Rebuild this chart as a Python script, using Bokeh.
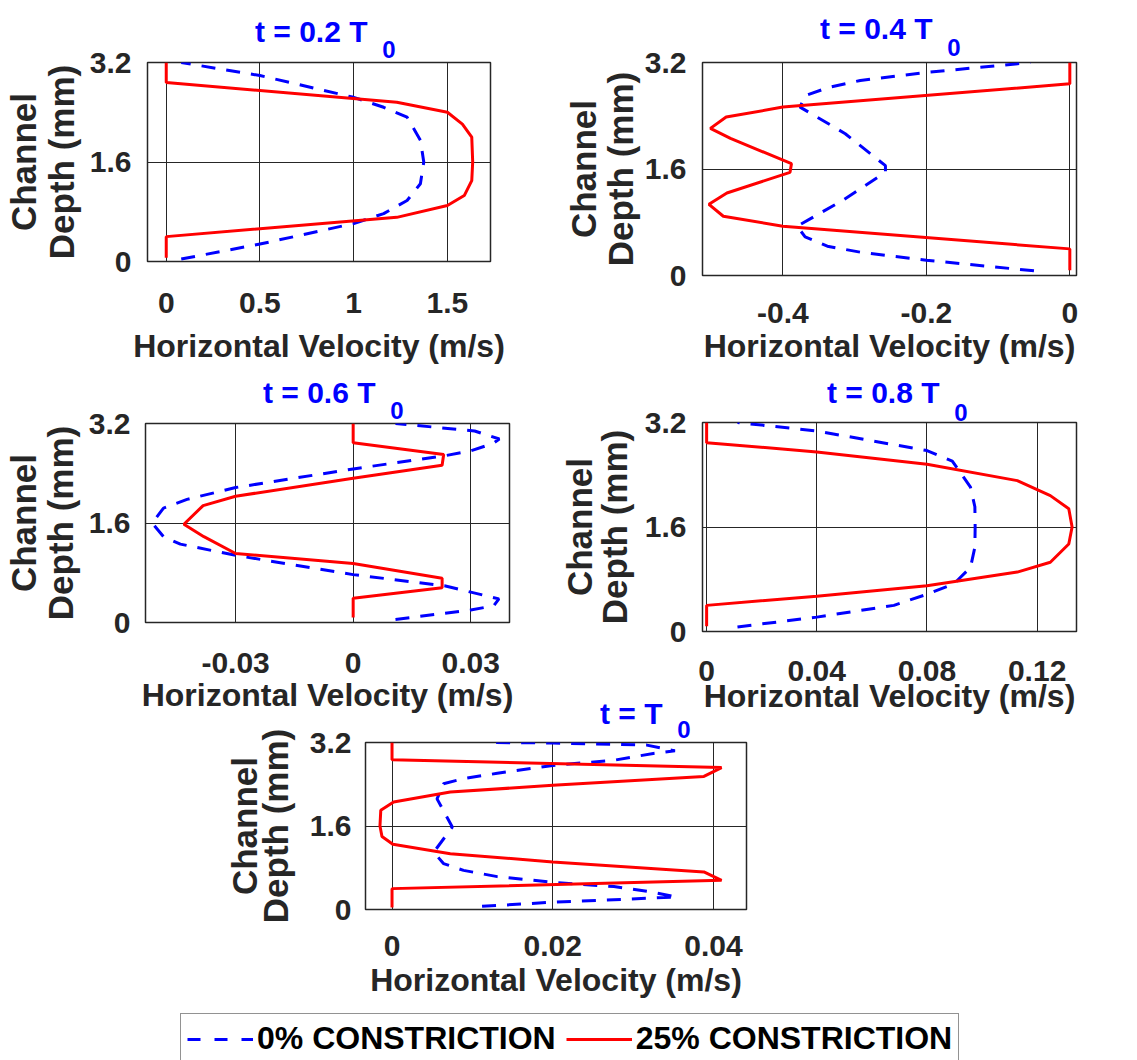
from bokeh.plotting import figure
from bokeh.models import Range1d, FixedTicker, Title, Legend, LegendItem, Spacer
from bokeh.layouts import column, row
from bokeh.embed import file_html
from bokeh.resources import INLINE

# ---------------- data ----------------
Y_TICKS = [0, 1.6, 3.2]
Y_TICK_LABELS = ["0", "1.6", "3.2"]
X_LABEL = "Horizontal Velocity (m/s)"
Y_LABEL_INNER = "Depth (mm)"
Y_LABEL_OUTER = "Channel"
SERIES_NAMES = ["0% CONSTRICTION", "25% CONSTRICTION"]
TITLES = ["t = 0.2 T", "t = 0.4 T", "t = 0.6 T", "t = 0.8 T", "t = T"]
TITLE_SUB = "0"

# t = 0.2 T0
p1_xlim = (-0.1, 1.73)
p1_xticks = [0, 0.5, 1, 1.5]
p1_xtick_labels = ["0", "0.5", "1", "1.5"]
p1_blue_x = [0.08, 0.50, 1.00, 1.16, 1.285, 1.356, 1.374, 1.356, 1.285, 1.16, 1.00, 0.50, 0.08]
p1_blue_y = [0.04, 0.28, 0.61, 0.77, 0.98, 1.25, 1.60, 1.95, 2.32, 2.48, 2.64, 2.99, 3.20]
p1_red_x = [0, 0, 1.23, 1.50, 1.59, 1.63, 1.635, 1.63, 1.58, 1.50, 1.23, 0, 0]
p1_red_y = [0.06, 0.40, 0.71, 0.90, 1.06, 1.30, 1.60, 2.00, 2.21, 2.40, 2.56, 2.88, 3.20]

# t = 0.4 T0
p2_xlim = (-0.512, 0.0093)
p2_xticks = [-0.4, -0.2, 0]
p2_xtick_labels = ["-0.4", "-0.2", "0"]
p2_blue_x = [-0.05, -0.20, -0.292, -0.338, -0.369, -0.380, -0.315, -0.257, -0.257, -0.313, -0.376, -0.369, -0.338, -0.292, -0.20, -0.055]
p2_blue_y = [0.07, 0.23, 0.35, 0.44, 0.58, 0.74, 1.14, 1.55, 1.65, 2.13, 2.53, 2.70, 2.82, 2.93, 3.05, 3.20]
p2_red_x = [0, 0, -0.40, -0.483, -0.503, -0.478, -0.39, -0.388, -0.473, -0.501, -0.479, -0.40, 0, 0]
p2_red_y = [0.08, 0.40, 0.74, 0.89, 1.07, 1.24, 1.55, 1.68, 2.06, 2.21, 2.38, 2.53, 2.88, 3.20]

# t = 0.6 T0
p3_xlim = (-0.053, 0.0399)
p3_xticks = [-0.03, 0, 0.03]
p3_xtick_labels = ["-0.03", "0", "0.03"]
p3_blue_x = [0.0108, 0.030, 0.0359, 0.0372, 0.0233, 0, -0.03, -0.0441, -0.0484, -0.0513, -0.0484, -0.0424, -0.03, 0, 0.0233, 0.03, 0.0357, 0.0373, 0.031, 0.0108]
p3_blue_y = [0.05, 0.20, 0.27, 0.38, 0.59, 0.77, 1.08, 1.26, 1.38, 1.60, 1.84, 1.98, 2.17, 2.47, 2.68, 2.76, 2.88, 2.95, 3.08, 3.20]
p3_red_x = [0, 0, 0.0227, 0.0227, 0, -0.03, -0.0381, -0.0432, -0.0383, -0.03, 0, 0.0227, 0.0231, 0, 0]
p3_red_y = [0.08, 0.39, 0.56, 0.71, 0.95, 1.11, 1.38, 1.58, 1.88, 2.03, 2.32, 2.53, 2.70, 2.89, 3.20]

# t = 0.8 T0
p4_xlim = (-0.0015, 0.1343)
p4_xticks = [0, 0.04, 0.08, 0.12]
p4_xtick_labels = ["0", "0.04", "0.08", "0.12"]
p4_blue_x = [0.0112, 0.04, 0.068, 0.08, 0.0898, 0.0958, 0.0974, 0.0975, 0.0974, 0.0958, 0.0892, 0.08, 0.04, 0.0112]
p4_blue_y = [0.07, 0.22, 0.40, 0.57, 0.73, 0.98, 1.29, 1.60, 1.91, 2.21, 2.61, 2.77, 3.07, 3.20]
p4_red_x = [0, 0, 0.04, 0.08, 0.1128, 0.1248, 0.1315, 0.1327, 0.1315, 0.1248, 0.1128, 0.08, 0.04, 0, 0]
p4_red_y = [0.08, 0.40, 0.54, 0.70, 0.91, 1.06, 1.34, 1.60, 1.88, 2.08, 2.31, 2.56, 2.75, 2.89, 3.20]

# t = T0
p5_xlim = (-0.0033, 0.0441)
p5_xticks = [0, 0.02, 0.04]
p5_xtick_labels = ["0", "0.02", "0.04"]
p5_blue_x = [0.0112, 0.02, 0.0296, 0.0354, 0.0325, 0.0276, 0.02, 0.0131, 0.0089, 0.0064, 0.0052, 0.0075, 0.0056, 0.0064, 0.0089, 0.0131, 0.02, 0.0276, 0.0325, 0.0352, 0.0317, 0.02, 0.0124]
p5_blue_y = [0.06, 0.14, 0.20, 0.24, 0.33, 0.44, 0.52, 0.63, 0.75, 0.88, 1.10, 1.58, 2.12, 2.41, 2.51, 2.61, 2.76, 2.86, 2.99, 3.04, 3.15, 3.19, 3.20]
p5_red_x = [0, 0, 0.0410, 0.0388, 0.02, 0.00725, 0.0001, -0.00125, -0.0015, -0.0014, 0.0002, 0.00725, 0.02, 0.0388, 0.0410, 0, 0]
p5_red_y = [0.04, 0.40, 0.56, 0.72, 0.91, 1.07, 1.25, 1.40, 1.60, 1.90, 2.06, 2.25, 2.38, 2.55, 2.72, 2.87, 3.20]

# ---------------- style ----------------
FONT = "Liberation Sans"
TXT = "#262626"
BLUE = "#0000FF"
RED = "#FF0000"
DASH = "14 11"
LW = 3


def make_panel(title, xlim, xticks, xlabels, bx, by, rx, ry, g):
    p = figure(width=g["w"], height=g["h"],
               x_range=Range1d(*xlim), y_range=Range1d(0, 3.2),
               output_backend="svg", toolbar_location=None,
               min_border_left=g["bl"], min_border_right=g["br"],
               min_border_top=g["bt"], min_border_bottom=g["bb"])
    p.frame_align = False
    p.outline_line_color = TXT
    p.outline_line_width = 1.5
    if g.get("transparent"):
        p.border_fill_color = None
    p.background_fill_color = "white"

    p.line(bx, by, line_color=BLUE, line_width=LW, line_dash=DASH)
    p.line(rx, ry, line_color=RED, line_width=LW)

    xt = FixedTicker(ticks=xticks)
    yt = FixedTicker(ticks=Y_TICKS)
    xa = p.xaxis[0]
    ya = p.yaxis[0]
    xa.ticker = xt
    ya.ticker = yt
    p.xgrid[0].ticker = xt
    p.ygrid[0].ticker = yt
    for gr in (p.xgrid[0], p.ygrid[0]):
        gr.grid_line_color = TXT
        gr.grid_line_width = 1
        gr.grid_line_alpha = 1

    xa.major_label_overrides = {t: s for t, s in zip(xticks, xlabels)}
    ya.major_label_overrides = {t: s for t, s in zip(Y_TICKS, Y_TICK_LABELS)}
    for ax in (xa, ya):
        ax.axis_line_color = None
        ax.major_tick_line_color = None
        ax.minor_tick_line_color = None
        ax.major_label_text_font = FONT
        ax.major_label_text_font_size = "30px"
        ax.major_label_text_font_style = "bold"
        ax.major_label_text_color = TXT
        ax.axis_label_text_font = FONT
        ax.axis_label_text_font_style = "bold"
        ax.axis_label_text_color = TXT
    xa.axis_label = X_LABEL
    xa.axis_label_text_font_size = "32px"
    xa.major_label_standoff = g["xls"]
    xa.axis_label_standoff = g["xas"]
    ya.axis_label = Y_LABEL_INNER
    ya.axis_label_text_font_size = "35px"
    ya.major_label_standoff = g["yls"]
    ya.axis_label_standoff = g["yas"]

    p.add_layout(Title(text=Y_LABEL_OUTER, align="center", text_font=FONT,
                       text_font_size="35px", text_font_style="bold",
                       text_color=TXT, standoff=g["cs"], offset=0), "left")

    fw = g["w"] - g["bl"] - g["br"]
    # subscript first (closest to the frame), then the main title text above it
    p.add_layout(Title(text=TITLE_SUB, align="right", offset=fw - g["tr"],
                       text_font=FONT, text_font_size="24px", text_font_style="bold",
                       text_color=BLUE, standoff=g["ss"]), "above")
    p.add_layout(Title(text=title, align="right", offset=fw - g["tr"] + 28,
                       text_font=FONT, text_font_size="30px", text_font_style="bold",
                       text_color=BLUE, standoff=g["ms"]), "above")
    return p


g1 = dict(w=550, h=370, bl=147, br=60, bt=62, bb=109, xls=25, xas=12, yls=10, yas=6, cs=-9,
          tr=248, ss=10, ms=-29)
g2 = dict(w=587, h=370, bl=152, br=61, bt=62, bb=95, xls=21, xas=2, yls=10, yas=2, cs=-11,
          tr=258, ss=14, ms=-31)
g3 = dict(w=550, h=348, bl=145, br=41, bt=53, bb=96, xls=24, xas=1, yls=9, yas=6, cs=-11,
          tr=258, ss=10, ms=-29)
g4 = dict(w=587, h=348, bl=152, br=61, bt=52, bb=87, xls=23, xas=-6, yls=10, yas=8, cs=-15,
          tr=265, ss=4, ms=-19)
g5 = dict(w=615, h=311, bl=150, br=84, bt=50, bb=94, xls=20, xas=3, yls=8, yas=12, cs=-22,
          tr=325, ss=10, ms=-33, transparent=True)

p1 = make_panel(TITLES[0], p1_xlim, p1_xticks, p1_xtick_labels, p1_blue_x, p1_blue_y, p1_red_x, p1_red_y, g1)
p2 = make_panel(TITLES[1], p2_xlim, p2_xticks, p2_xtick_labels, p2_blue_x, p2_blue_y, p2_red_x, p2_red_y, g2)
p3 = make_panel(TITLES[2], p3_xlim, p3_xticks, p3_xtick_labels, p3_blue_x, p3_blue_y, p3_red_x, p3_red_y, g3)
p4 = make_panel(TITLES[3], p4_xlim, p4_xticks, p4_xtick_labels, p4_blue_x, p4_blue_y, p4_red_x, p4_red_y, g4)
p5 = make_panel(TITLES[4], p5_xlim, p5_xticks, p5_xtick_labels, p5_blue_x, p5_blue_y, p5_red_x, p5_red_y, g5)

# ---------------- legend ----------------
# legend-only figure: series drawn outside its visible range so only the key shows
lp = figure(width=1137, height=57, x_range=Range1d(-2, -1), y_range=Range1d(0, 3.2),
            output_backend="svg", toolbar_location=None,
            x_axis_location=None, y_axis_location=None,
            min_border_left=170, min_border_right=0, min_border_top=0, min_border_bottom=0)
lp.frame_align = False
lp.outline_line_color = None
for gr in lp.grid:
    gr.visible = False
rb = lp.line(p1_blue_x, p1_blue_y, line_color=BLUE, line_width=LW, line_dash="13 14")
rr = lp.line(p1_red_x, p1_red_y, line_color=RED, line_width=LW)
leg = Legend(items=[LegendItem(label=SERIES_NAMES[0], renderers=[rb]),
                    LegendItem(label=SERIES_NAMES[1], renderers=[rr])],
             orientation="horizontal", location="top_left", margin=10, padding=6,
             spacing=10, glyph_width=66, glyph_height=30, label_standoff=4,
             label_text_font=FONT, label_text_font_size="32px",
             label_text_font_style="bold", label_text_color="black",
             border_line_color=TXT, border_line_width=1)
lp.add_layout(leg, "center")

layout = column(
    row(p1, p2),
    row(p3, p4),
    row(Spacer(width=215, height=311), p5, margin=(-26, 0, 0, 0)),
    lp,
)

open("out.html", "w").write(file_html(layout, INLINE))
